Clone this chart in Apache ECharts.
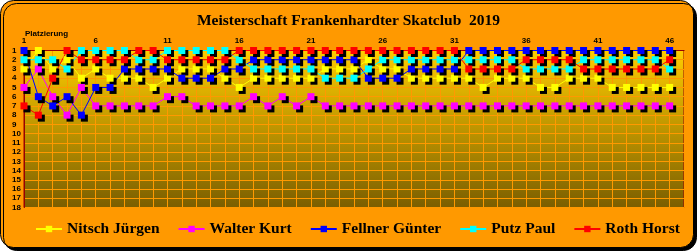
<!DOCTYPE html>
<html>
<head>
<meta charset="utf-8">
<script src="https://cdn.jsdelivr.net/npm/echarts@6/dist/echarts.min.js"></script>
<style>
html,body{margin:0;padding:0;background:#ffffff;}
#chart{width:697px;height:251px;}
</style>
</head>
<body>
<div id="chart"></div>
<script>
const titleText = 'Meisterschaft Frankenhardter Skatclub  2019';
const yAxisName = 'Platzierung';
const categories = ['1','2','3','4','5','6','7','8','9','10','11','12','13','14','15','16','17','18','19','20','21','22','23','24','25','26','27','28','29','30','31','32','33','34','35','36','37','38','39','40','41','42','43','44','45','46','47'];
const seriesNames = ['Nitsch Jürgen','Walter Kurt','Fellner Günter','Putz Paul','Roth Horst'];
const seriesColors = ['#FFFF00','#FF00FF','#0000FF','#00FFFF','#FF0000'];
const nitsch  = [3,1,3,2,4,3,4,4,4,5,4,3,3,3,4,5,4,4,4,4,4,3,3,3,2,3,3,4,4,4,4,4,5,4,4,4,5,5,4,4,4,5,5,5,5,5];
const walter  = [5,3,6,8,5,7,7,7,7,7,6,6,7,7,7,7,6,7,6,7,6,7,7,7,7,7,7,7,7,7,7,7,7,7,7,7,7,7,7,7,7,7,7,7,7,7];
const fellner = [1,6,7,6,8,5,5,3,3,3,3,4,4,4,3,3,2,2,2,2,2,2,2,2,4,4,4,3,3,3,3,1,1,1,1,1,1,1,1,1,1,1,1,1,1,1];
const putz    = [2,2,2,3,1,1,1,1,2,2,1,1,1,1,1,2,3,3,3,3,3,4,4,4,3,2,2,2,2,2,2,2,2,2,2,3,3,3,3,2,2,2,2,2,2,3];
const roth    = [7,8,4,1,2,2,2,2,1,1,2,2,2,2,2,1,1,1,1,1,1,1,1,1,1,1,1,1,1,1,1,3,3,3,3,2,2,2,2,3,3,3,3,3,3,2];
const seriesData = [nitsch, walter, fellner, putz, roth];
const lastDataIndex = nitsch.length - 1;

const chart = echarts.init(document.getElementById('chart'), null, {renderer:'canvas'});
const serifFont = '"Liberation Serif","Times New Roman",serif';
const sansFont = '"Liberation Sans",Arial,sans-serif';

chart.setOption({
  backgroundColor: '#ffffff',
  animation: false,
  graphic: [{
    type: 'rect', z: -100, silent: true,
    shape: {x: 0.5, y: 0.5, width: 693, height: 247, r: 13},
    style: {fill: '#FF9900', stroke: '#000000', lineWidth: 1,
            shadowColor: '#000000', shadowOffsetX: 3, shadowOffsetY: 3, shadowBlur: 0}
  }],
  title: [{
    text: titleText, left: 'center', top: 8,
    textStyle: {fontFamily: serifFont, fontWeight: 'bold', fontSize: 15.5, color: '#000000',
                textShadowColor: 'rgba(60,40,0,0.55)', textShadowOffsetX: 1, textShadowOffsetY: 1}
  }, {
    text: yAxisName, left: 20, top: 25,
    textStyle: {fontFamily: sansFont, fontWeight: 'bold', fontSize: 8, color: '#000000'}
  }],
  legend: {
    data: seriesNames, left: 35, top: 221, padding: 0, itemWidth: 26, itemHeight: 8, itemGap: 18,
    textStyle: {fontFamily: serifFont, fontWeight: 'bold', fontSize: 15.5, color: '#000000',
                textShadowColor: 'rgba(60,40,0,0.55)', textShadowOffsetX: 1, textShadowOffsetY: 1},
    itemStyle: {shadowColor: 'rgba(0,0,0,0)', shadowOffsetX: 0, shadowOffsetY: 0}
  },
  grid: {
    left: 24, right: 13, top: 50.5, bottom: 43.5, show: true,
    backgroundColor: new echarts.graphic.LinearGradient(0, 0, 0, 1, [
      {offset: 0, color: '#FFCC00'}, {offset: 1, color: '#7A5E00'}]),
    borderColor: '#990000', borderWidth: 1
  },
  xAxis: {
    type: 'category', data: categories, boundaryGap: false, position: 'top',
    axisLine: {show: true, lineStyle: {color: '#990000', width: 1}},
    axisTick: {show: false},
    axisLabel: {interval: (idx) => idx % 5 === 0 && idx <= lastDataIndex, margin: 6, color: '#000000',
                fontFamily: sansFont, fontWeight: 'bold', fontSize: 8},
    splitLine: {show: true, interval: 0, lineStyle: {color: '#FF9900', width: 1}}
  },
  yAxis: {
    type: 'value', inverse: true, min: 1, max: 18, interval: 1,
    axisLine: {show: true, lineStyle: {color: '#990000', width: 1}},
    axisTick: {show: false},
    axisLabel: {align: 'left', margin: 12, color: '#000000',
                fontFamily: sansFont, fontWeight: 'bold', fontSize: 8},
    splitLine: {show: true, lineStyle: {color: '#FF9900', width: 1}}
  },
  series: seriesNames.map((name, i) => ({
    name: name, type: 'line', data: seriesData[i], clip: false,
    symbol: 'rect', symbolSize: 7, showAllSymbol: true,
    lineStyle: {color: seriesColors[i], width: 1},
    itemStyle: {color: seriesColors[i], shadowColor: '#000000', shadowBlur: 0, shadowOffsetX: 3, shadowOffsetY: 3},
    emphasis: {disabled: true}
  }))
});
</script>
</body>
</html>
